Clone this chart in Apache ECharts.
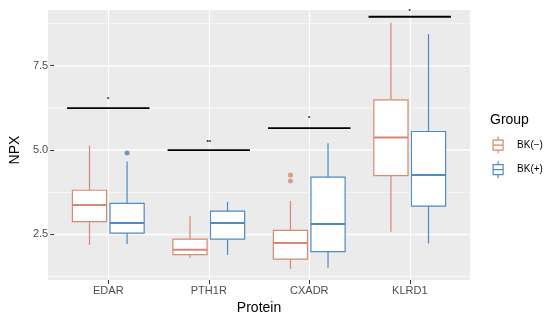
<!DOCTYPE html>
<html><head><meta charset="utf-8">
<script src="https://cdn.jsdelivr.net/npm/echarts@6/dist/echarts.min.js"></script>
<style>html,body{margin:0;padding:0;background:#fff}#c{width:550px;height:324px}</style>
</head><body><div id="c"></div>
<script>
const categories = ['EDAR', 'PTH1R', 'CXADR', 'KLRD1'];
const groupNames = ['BK(−)', 'BK(+)'];
// [lower whisker, Q1, median, Q3, upper whisker]
const bkNeg = [[2.19, 2.88, 3.37, 3.81, 5.13], [1.81, 1.90, 2.05, 2.36, 3.04], [1.48, 1.77, 2.25, 2.62, 3.49], [2.58, 4.24, 5.37, 6.49, 8.77]];
const bkPos = [[2.22, 2.54, 2.84, 3.42, 4.66], [1.89, 2.36, 2.84, 3.19, 3.47], [1.51, 1.99, 2.81, 4.20, 5.20], [2.23, 3.34, 4.26, 5.55, 8.44]];
// [category index, value]
const outNeg = [[2, 4.26], [2, 4.08]];
const outPos = [[0, 4.91]];
const sigLineY = [6.24, 5.0, 5.65, 8.95];
const sigLabelY = [6.50, 5.22, 5.94, 9.10];
const sigLabels = ['*', '**', '*', '*'];
const yTicks = [2.5, 5.0, 7.5];
const yMinor = [1.25, 3.75, 6.25, 8.75];
const yTickMin = 2.5, yTickMax = 7.5, yTickStep = 2.5;

const colNeg = '#D6896E', colPos = '#4D8AC6';
const DODGE = 0.187, BOXW = 0.34, SIGHALF = 0.41;
const XMIN = -0.6, XMAX = 3.6;
const YMIN = 1.15, YMAX = 9.15;
const TOP = 10, BOTTOM = 44;
const PX = (324 - TOP - BOTTOM) / (YMAX - YMIN);

function boxRender(offset, color) {
  return function (params, api) {
    const x = api.value(0) + offset;
    const lo = api.coord([x, api.value(1)]);
    const q1 = api.coord([x, api.value(2)]);
    const md = api.coord([x, api.value(3)]);
    const q3 = api.coord([x, api.value(4)]);
    const hi = api.coord([x, api.value(5)]);
    const w = api.size([BOXW, 0])[0];
    const cx = lo[0];
    const ls = { stroke: color, lineWidth: 1.2 };
    return { type: 'group', children: [
      { type: 'line', shape: { x1: cx, y1: hi[1], x2: cx, y2: q3[1] }, style: ls },
      { type: 'line', shape: { x1: cx, y1: q1[1], x2: cx, y2: lo[1] }, style: ls },
      { type: 'rect', shape: { x: cx - w / 2, y: q3[1], width: w, height: q1[1] - q3[1] }, style: { fill: '#fff', stroke: color, lineWidth: 1.2 } },
      { type: 'line', shape: { x1: cx - w / 2, y1: md[1], x2: cx + w / 2, y2: md[1] }, style: { stroke: color, lineWidth: 2 } }
    ]};
  };
}

// panel background plus horizontal grid lines, drawn as filled bands
function panelRender(params, api) {
  const a = api.coord([XMIN, YMAX]);
  const b = api.coord([XMAX, YMIN]);
  const children = [{ type: 'rect', shape: { x: a[0], y: a[1], width: b[0] - a[0], height: b[1] - a[1] }, style: { fill: '#EBEBEB' } }];
  yMinor.forEach(v => {
    const p = api.coord([XMIN, v]);
    children.push({ type: 'rect', shape: { x: a[0], y: p[1] - 0.35, width: b[0] - a[0], height: 0.7 }, style: { fill: '#FFFFFF' } });
  });
  yTicks.forEach(v => {
    const p = api.coord([XMIN, v]);
    children.push({ type: 'rect', shape: { x: a[0], y: p[1] - 0.7, width: b[0] - a[0], height: 1.4 }, style: { fill: '#FFFFFF' } });
  });
  return { type: 'group', children: children };
}

const iconPath = 'path://M14,0V3.5M14,13.5V17M9,3.5H19V13.5H9ZM9,8.5H19M0,0H0.01M28,17H27.99';
const font = 'Liberation Sans';
const hidden = { axisLine: { show: false, onZero: false }, axisTick: { show: false }, axisLabel: { show: false }, splitLine: { show: false } };

const option = {
  animation: false,
  backgroundColor: '#fff',
  title: { text: 'Group', left: 490, top: 113, padding: 0, textStyle: { fontFamily: font, fontSize: 14, fontWeight: 'normal', color: '#000' } },
  legend: {
    orient: 'vertical', left: 483.5, top: 136, itemWidth: 28, itemHeight: 17, itemGap: 6.4, padding: 0,
    textStyle: { fontFamily: font, fontSize: 10, color: '#000' },
    data: [
      { name: groupNames[0], icon: iconPath, itemStyle: { color: '#fff', borderColor: colNeg, borderWidth: 1.2 } },
      { name: groupNames[1], icon: iconPath, itemStyle: { color: '#fff', borderColor: colPos, borderWidth: 1.2 } }
    ]
  },
  grid: [
    { left: 48, right: 80, top: TOP, bottom: BOTTOM, show: false },
    { left: 108.3, right: 140.2, top: TOP, bottom: BOTTOM, show: false },
    { left: 48, right: 80, top: TOP + (YMAX - yTickMax) * PX, bottom: BOTTOM + (yTickMin - YMIN) * PX, show: false }
  ],
  xAxis: [
    Object.assign({ type: 'value', gridIndex: 0, min: XMIN, max: XMAX }, hidden),
    { type: 'category', gridIndex: 1, data: categories, boundaryGap: false, z: 2,
      axisLine: { show: false, onZero: false },
      axisTick: { show: true, length: 4, lineStyle: { color: '#333', width: 1 } },
      axisLabel: { fontFamily: font, fontSize: 11, color: '#4D4D4D', margin: 5 },
      splitLine: { show: true, lineStyle: { color: '#fff', width: 1.1 } },
      name: 'Protein', nameLocation: 'middle', nameGap: 20,
      nameTextStyle: { fontFamily: font, fontSize: 14, color: '#000' } },
    Object.assign({ type: 'value', gridIndex: 2, min: 0, max: 1 }, hidden)
  ],
  yAxis: [
    Object.assign({ type: 'value', gridIndex: 0, min: YMIN, max: YMAX }, hidden),
    Object.assign({ type: 'value', gridIndex: 1, min: YMIN, max: YMAX }, hidden),
    { type: 'value', gridIndex: 2, min: yTickMin, max: yTickMax, interval: yTickStep, z: 2,
      axisLine: { show: false, onZero: false },
      axisTick: { show: true, length: 4, lineStyle: { color: '#333', width: 1 } },
      axisLabel: { fontFamily: font, fontSize: 11, color: '#4D4D4D', margin: 6, formatter: v => v.toFixed(1) },
      splitLine: { show: false },
      name: 'NPX', nameLocation: 'middle', nameGap: 26,
      nameTextStyle: { fontFamily: font, fontSize: 14, color: '#000' } }
  ],
  series: [
    { type: 'custom', xAxisIndex: 0, yAxisIndex: 0, z: 1, silent: true, clip: false,
      encode: { x: 0, y: 1 },
      data: [[XMIN, YMIN]],
      renderItem: panelRender },
    { name: groupNames[0], type: 'custom', xAxisIndex: 0, yAxisIndex: 0, z: 3, itemStyle: { color: colNeg },
      renderItem: boxRender(-DODGE, colNeg), encode: { x: 0, y: [1, 2, 3, 4, 5] },
      data: bkNeg.map((d, i) => [i].concat(d)) },
    { name: groupNames[1], type: 'custom', xAxisIndex: 0, yAxisIndex: 0, z: 3, itemStyle: { color: colPos },
      renderItem: boxRender(DODGE, colPos), encode: { x: 0, y: [1, 2, 3, 4, 5] },
      data: bkPos.map((d, i) => [i].concat(d)) },
    { type: 'scatter', xAxisIndex: 0, yAxisIndex: 0, z: 4, symbolSize: 5, itemStyle: { color: colNeg },
      data: outNeg.map(d => [d[0] - DODGE, d[1]]) },
    { type: 'scatter', xAxisIndex: 0, yAxisIndex: 0, z: 4, symbolSize: 5, itemStyle: { color: '#5A78BE' },
      data: outPos.map(d => [d[0] + DODGE, d[1]]) },
    { type: 'custom', xAxisIndex: 0, yAxisIndex: 0, z: 5,
      encode: { x: 0, y: [1, 2] },
      data: sigLineY.map((v, i) => [i, v, sigLabelY[i]]),
      renderItem: function (params, api) {
        const i = api.value(0);
        const a = api.coord([i - SIGHALF, api.value(1)]);
        const b = api.coord([i + SIGHALF, api.value(1)]);
        const t = api.coord([i, api.value(2)]);
        return { type: 'group', children: [
          { type: 'line', shape: { x1: a[0], y1: a[1], x2: b[0], y2: b[1] }, style: { stroke: '#000', lineWidth: 1.8 } },
          { type: 'text', x: t[0], y: t[1], style: { text: sigLabels[params.dataIndex], fill: '#000', font: 'bold 6px Liberation Sans', align: 'center', verticalAlign: 'middle' } }
        ]};
      } }
  ]
};
const chart = echarts.init(document.getElementById('c'), null, { renderer: 'canvas' });
chart.setOption(option);
</script>
</body></html>
